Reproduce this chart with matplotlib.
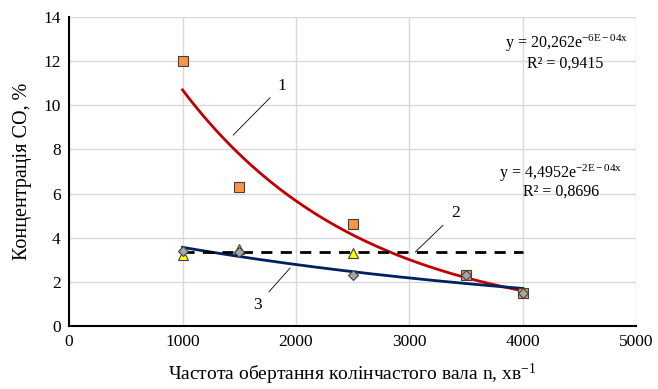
import numpy as np
import matplotlib
matplotlib.use("Agg")
import matplotlib.pyplot as plt

plt.rcParams['font.family'] = ['Liberation Serif', 'DejaVu Serif']
plt.rcParams['mathtext.fontset'] = 'custom'
plt.rcParams['mathtext.rm'] = 'Liberation Serif'
plt.rcParams['mathtext.it'] = 'Liberation Serif:italic'

# дані
n1 = [1000, 1500, 2500, 3500, 4000]
co1 = [12.0, 6.3, 4.6, 2.3, 1.5]
n2 = [1000, 1500, 2500]
co2 = [3.2, 3.5, 3.3]
n3 = [1000, 1500, 2500, 3500, 4000]
co3 = [3.4, 3.35, 2.3, 2.3, 1.5]

fig = plt.figure(figsize=(6.58, 3.89), dpi=100)
ax = fig.add_axes([0.105, 0.162, 0.862, 0.794])

# тренди
xs = np.linspace(1000, 4000, 200)
k1, b1 = np.polyfit(n1, np.log(co1), 1)
k3, b3 = np.polyfit(n3, np.log(co3), 1)
ax.plot(xs, np.exp(b1) * np.exp(k1 * xs), color='#C00000', lw=2, zorder=3)
ax.plot(xs, np.exp(b3) * np.exp(k3 * xs), color='#002060', lw=2, zorder=3)
ax.plot([1000, 4000], [np.mean(co2)] * 2, color='black', lw=2,
        ls=(0, (4, 3)), zorder=3)

mk = dict(markeredgecolor='#404040', markeredgewidth=0.8, ls='none', zorder=4)
ax.plot(n1, co1, 's', color='#F79646', ms=6.5, **mk)
ax.plot(n2, co2, '^', color='#FFFF00', ms=7, **mk)
ax.plot(n3, co3, 'D', color='#A6A6A6', ms=5.5, **mk)

ax.set_xlim(0, 5000)
ax.set_ylim(0, 14)
ax.set_xticks(range(0, 5001, 1000))
ax.set_yticks(range(0, 15, 2))
ax.grid(True, color='#D9D9D9', lw=1)
ax.set_axisbelow(True)
ax.tick_params(length=0, labelsize=12.5, pad=6)
for s in ['top', 'right']:
    ax.spines[s].set_visible(False)
for s in ['left', 'bottom']:
    ax.spines[s].set_color('black')
    ax.spines[s].set_linewidth(1.5)

ax.set_xlabel(r'Частота обертання колінчастого вала n, хв$^{-1}$', fontsize=14, labelpad=8)
ax.set_ylabel('Концентрація СО, %', fontsize=14.5, labelpad=8)

# підписи кривих
ax.annotate('1', xy=(1446, 8.65), xytext=(1878, 10.9), fontsize=12.5,
            ha='center', va='center',
            arrowprops=dict(arrowstyle='-', color='black', lw=0.6, shrinkB=0, shrinkA=5))
ax.annotate('2', xy=(3051, 3.35), xytext=(3404, 5.1), fontsize=12.5,
            ha='center', va='center',
            arrowprops=dict(arrowstyle='-', color='black', lw=0.6, shrinkB=0, shrinkA=5))
ax.annotate('3', xy=(1949, 2.63), xytext=(1658, 0.95), fontsize=12.5,
            ha='center', va='center',
            arrowprops=dict(arrowstyle='-', color='black', lw=0.6, shrinkB=0, shrinkA=5))

ax.text(4383, 12.8, r'y = 20,262e$^{\mathrm{-6E-04x}}$', fontsize=11.5, ha='center', va='center')
ax.text(4370, 11.9, 'R² = 0,9415', fontsize=11.5, ha='center', va='center')
ax.text(4330, 6.93, r'y = 4,4952e$^{\mathrm{-2E-04x}}$', fontsize=11.5, ha='center', va='center')
ax.text(4340, 6.07, 'R² = 0,8696', fontsize=11.5, ha='center', va='center')

fig.savefig('out.png', dpi=100)
